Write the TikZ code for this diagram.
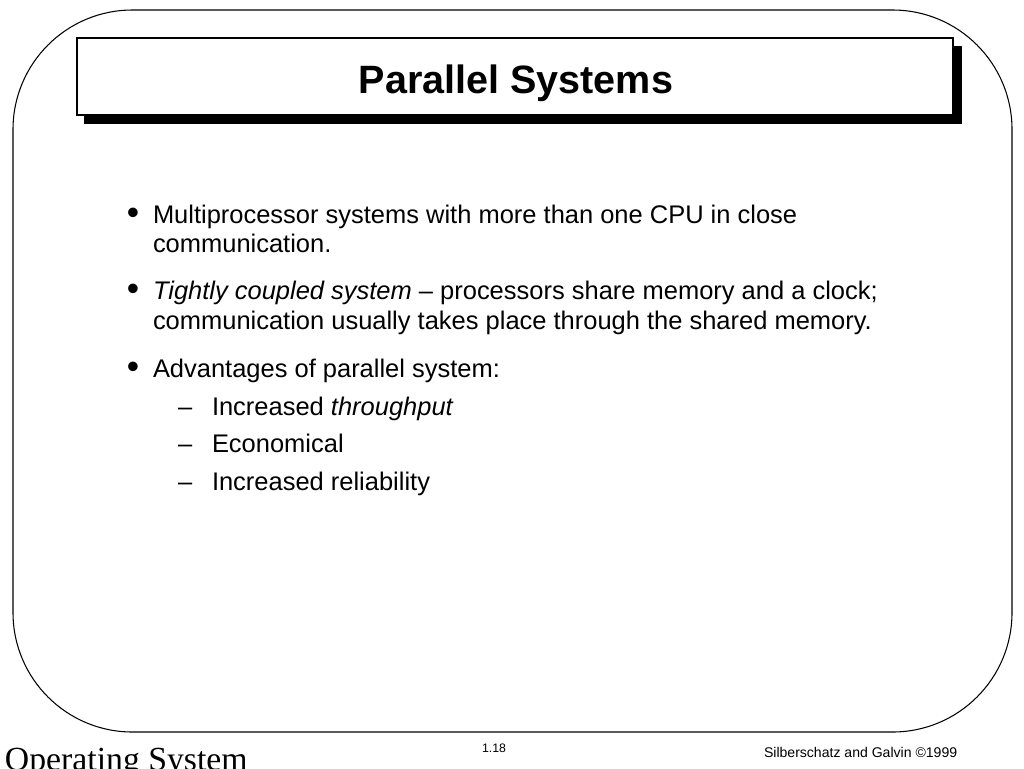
\documentclass[tikz,border=0pt]{standalone}
\usepackage{fontspec}
\setmainfont{Liberation Sans}
\newfontfamily\timesfont{Liberation Serif}
\usetikzlibrary{positioning}

\begin{document}
\begin{tikzpicture}[
        x=0.02cm, y=-0.02cm,
        every node/.style={inner sep=0pt, outer sep=0pt},
        txt/.style={anchor=base west, font=\fontsize{14.5}{17}\selectfont},
        dot/.style={anchor=base, font=\fontsize{20}{22}\selectfont},
        foot/.style={anchor=base west, font=\fontsize{8}{9}\selectfont}]
        
        \useasboundingbox (0,0) rectangle (1024,768);
        \fill[white] (0,0) rectangle (1024,768);
        
        % slide frame
        \draw[line width=0.6pt, rounded corners=68pt] (13,10) rectangle (1012,732);
        
        % title box with shadow
        \fill[black] (84,46) rectangle (962,124);
        \draw[fill=white, line width=0.6pt] (77,38) rectangle (953,115);
        \node[anchor=base, font=\fontsize{22.5}{26}\selectfont\bfseries] (Title) at (516,93) {Parallel Systems};
        
        % bullets
        \node[dot] (B1) at (133,224) {•};
        \node[txt] (L1a) at (153,223) {Multiprocessor systems with more than one CPU in close};
        \node[txt] (L1b) at (153,252) {communication.};
        
        \node[dot] (B2) at (133,300) {•};
        \node[txt] (L2a) at (153,299) {\textit{Tightly coupled system} – processors share memory and a clock;};
        \node[txt] (L2b) at (153,329) {communication usually takes place through the shared memory.};
        
        \node[dot] (B3) at (133,378) {•};
        \node[txt] (L3) at (153,377) {Advantages of parallel system:};
        
        \node[txt] (D1) at (178,415) {–};
        \node[txt] (S1) at (212,415) {Increased \textit{throughput}};
        \node[txt] (D2) at (178,452) {–};
        \node[txt] (S2) at (212,452) {Economical};
        \node[txt] (D3) at (178,490) {–};
        \node[txt] (S3) at (212,490) {Increased reliability};
        
        % footer
        \node[anchor=base, font=\fontsize{7}{8}\selectfont] (Page) at (494,752) {1.18};
        \node[foot] (Credit) at (764,757) {Silberschatz and Galvin ©1999};
        \node[anchor=base west, font=\timesfont\fontsize{19.2}{22}\selectfont] (Course) at (5,770) {Operating System};
        
    \end{tikzpicture}
\end{document}
